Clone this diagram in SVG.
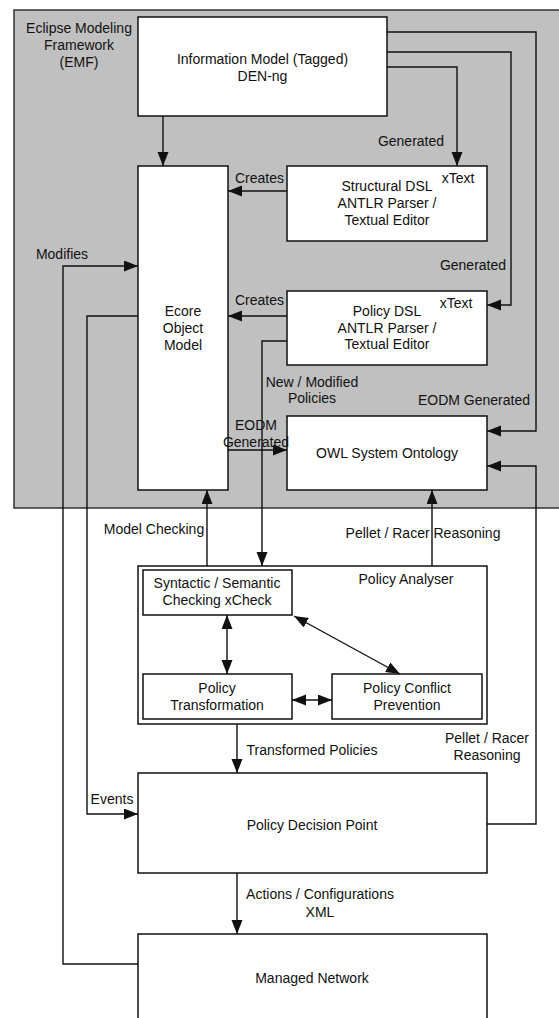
<svg xmlns="http://www.w3.org/2000/svg" width="559" height="1018" viewBox="0 0 559 1018">
<style>
text{font-family:"Liberation Sans",Arial,sans-serif;font-size:14px;fill:#111;text-anchor:middle}
.s{text-anchor:start}
.box{fill:#fff;stroke:#111;stroke-width:1.5}
.c{fill:none;stroke:#111;stroke-width:1.4}
.a{marker-end:url(#ah)}
.d{marker-start:url(#ah);marker-end:url(#ah)}
</style>
<defs>
<marker id="ah" markerUnits="userSpaceOnUse" markerWidth="15" markerHeight="12" refX="14" refY="5.5" orient="auto-start-reverse"><path d="M0,0 L14,5.5 L0,11 z" fill="#111"/></marker>
</defs>
<rect width="559" height="1018" fill="#fff"/>
<g id="emf">
<rect x="14" y="10" width="560" height="498" fill="#c0c0c0" stroke="#333" stroke-width="1.5"/>
<text x="79" y="33">Eclipse Modeling</text>
<text x="79" y="50">Framework</text>
<text x="79" y="67">(EMF)</text>
</g>
<g id="info-model">
<rect class="box" x="138" y="17" width="249" height="99"/>
<text x="262.5" y="64">Information Model (Tagged)</text>
<text x="262.5" y="81">DEN-ng</text>
</g>
<g id="ecore">
<rect class="box" x="138" y="166" width="90" height="324"/>
<text x="183" y="316">Ecore</text>
<text x="183" y="333">Object</text>
<text x="183" y="350">Model</text>
</g>
<g id="structural-dsl">
<rect class="box" x="287" y="166" width="200" height="75"/>
<text x="458" y="183">xText</text>
<text x="387" y="191">Structural DSL</text>
<text x="387" y="208">ANTLR Parser /</text>
<text x="387" y="225">Textual Editor</text>
</g>
<g id="policy-dsl">
<rect class="box" x="287" y="291" width="200" height="74"/>
<text x="456" y="308">xText</text>
<text x="387" y="316">Policy DSL</text>
<text x="387" y="333">ANTLR Parser /</text>
<text x="387" y="349">Textual Editor</text>
</g>
<g id="owl">
<rect class="box" x="287" y="416" width="200" height="74"/>
<text x="387" y="458">OWL System Ontology</text>
</g>
<g id="policy-analyser">
<rect class="box" x="138" y="566" width="349" height="158"/>
<text x="406" y="584">Policy Analyser</text>
</g>
<g id="syntactic">
<rect class="box" x="143" y="570" width="149" height="45"/>
<text x="217" y="588">Syntactic / Semantic</text>
<text x="217" y="605">Checking xCheck</text>
</g>
<g id="transformation">
<rect class="box" x="143" y="674" width="149" height="45"/>
<text x="217" y="693">Policy</text>
<text x="217" y="710">Transformation</text>
</g>
<g id="conflict">
<rect class="box" x="332" y="674" width="150" height="45"/>
<text x="407" y="693">Policy Conflict</text>
<text x="407" y="710">Prevention</text>
</g>
<g id="pdp">
<rect class="box" x="138" y="773" width="349" height="100"/>
<text x="312" y="830">Policy Decision Point</text>
</g>
<g id="managed-network">
<rect class="box" x="138" y="934" width="349" height="90"/>
<text x="312" y="983">Managed Network</text>
</g>
<g id="connectors">
<path class="c a" d="M163,116 V166"/>
<path class="c a" d="M387,67 H457 V166"/>
<path class="c a" d="M387,52 H511 V305 H487"/>
<path class="c a" d="M387,32 H536 V431 H487"/>
<path class="c a" d="M287,191 H228"/>
<path class="c a" d="M287,316 H228"/>
<path class="c a" d="M287,341 H262 V566"/>
<path class="c a" d="M228,450 H287"/>
<path class="c a" d="M207,566 V490"/>
<path class="c a" d="M432,566 V490"/>
<path class="c a" d="M237,724 V773"/>
<path class="c a" d="M487,824 H536 V466 H487"/>
<path class="c a" d="M138,316 H87 V814 H138"/>
<path class="c a" d="M138,964 H63 V266 H138"/>
<path class="c a" d="M237,873 V934"/>
<path class="c d" d="M227,615 V674"/>
<path class="c d" d="M292,700 H332"/>
<path class="c d" d="M294,616 L400,674"/>
<text x="411" y="146">Generated</text>
<text x="473" y="270">Generated</text>
<text x="474" y="405">EODM Generated</text>
<text class="s" x="235" y="183">Creates</text>
<text class="s" x="235" y="305">Creates</text>
<text x="312" y="387">New / Modified</text>
<text x="312" y="403">Policies</text>
<text x="256" y="430">EODM</text>
<text x="256" y="447">Generated</text>
<text x="154" y="534">Model Checking</text>
<text x="423" y="538">Pellet / Racer Reasoning</text>
<text x="312" y="755">Transformed Policies</text>
<text x="487" y="743">Pellet / Racer</text>
<text x="487" y="760">Reasoning</text>
<text x="112" y="804">Events</text>
<text x="62" y="259">Modifies</text>
<text x="320" y="899">Actions / Configurations</text>
<text x="320" y="917">XML</text>
</g>
</svg>
